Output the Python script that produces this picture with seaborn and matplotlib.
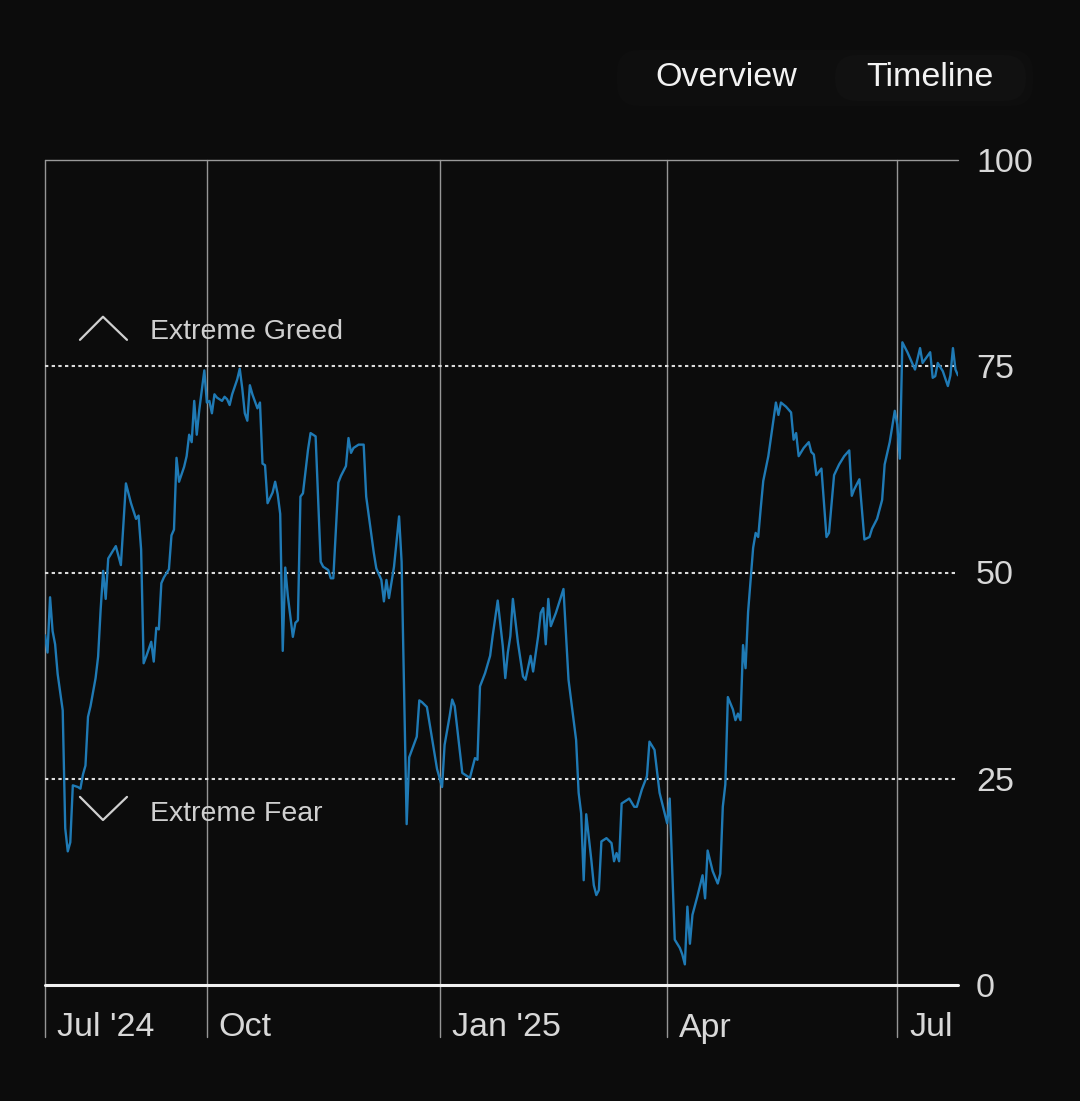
import pandas as pd
import matplotlib.pyplot as plt
import matplotlib.dates as mdates
from matplotlib.transforms import blended_transform_factory, ScaledTranslation
from matplotlib.patches import FancyBboxPatch
import seaborn as sns

# Fear & Greed index
dates = [
    "2024-07-29", "2024-07-30", "2024-07-31", "2024-08-01", "2024-08-02", "2024-08-03",
    "2024-08-05", "2024-08-06", "2024-08-07", "2024-08-08", "2024-08-09", "2024-08-11",
    "2024-08-12", "2024-08-13", "2024-08-14", "2024-08-15", "2024-08-16", "2024-08-18",
    "2024-08-19", "2024-08-20", "2024-08-21", "2024-08-22", "2024-08-23", "2024-08-24",
    "2024-08-26", "2024-08-28", "2024-08-30", "2024-09-01", "2024-09-03", "2024-09-04",
    "2024-09-05", "2024-09-06", "2024-09-07", "2024-09-09", "2024-09-10", "2024-09-11",
    "2024-09-12", "2024-09-13", "2024-09-14", "2024-09-16", "2024-09-17", "2024-09-18",
    "2024-09-19", "2024-09-20", "2024-09-22", "2024-09-23", "2024-09-24", "2024-09-25",
    "2024-09-26", "2024-09-27", "2024-09-28", "2024-09-30", "2024-10-01", "2024-10-02",
    "2024-10-03", "2024-10-04", "2024-10-05", "2024-10-07", "2024-10-08", "2024-10-09",
    "2024-10-10", "2024-10-11", "2024-10-13", "2024-10-14", "2024-10-15", "2024-10-16",
    "2024-10-17", "2024-10-18", "2024-10-19", "2024-10-21", "2024-10-22", "2024-10-23",
    "2024-10-24", "2024-10-25", "2024-10-27", "2024-10-28", "2024-10-29", "2024-10-30",
    "2024-10-31", "2024-11-01", "2024-11-02", "2024-11-04", "2024-11-05", "2024-11-06",
    "2024-11-07", "2024-11-08", "2024-11-10", "2024-11-11", "2024-11-13", "2024-11-15",
    "2024-11-16", "2024-11-18", "2024-11-19", "2024-11-20", "2024-11-22", "2024-11-23",
    "2024-11-25", "2024-11-26", "2024-11-27", "2024-11-28", "2024-11-30", "2024-12-02",
    "2024-12-03", "2024-12-06", "2024-12-07", "2024-12-09", "2024-12-10", "2024-12-11",
    "2024-12-12", "2024-12-14", "2024-12-16", "2024-12-17", "2024-12-19", "2024-12-20",
    "2024-12-23", "2024-12-24", "2024-12-25", "2024-12-27", "2024-12-31", "2025-01-02",
    "2025-01-03", "2025-01-05", "2025-01-06", "2025-01-07", "2025-01-10", "2025-01-11",
    "2025-01-13", "2025-01-15", "2025-01-16", "2025-01-17", "2025-01-19", "2025-01-21",
    "2025-01-22", "2025-01-24", "2025-01-26", "2025-01-27", "2025-01-28", "2025-01-29",
    "2025-01-30", "2025-02-01", "2025-02-03", "2025-02-04", "2025-02-06", "2025-02-07",
    "2025-02-09", "2025-02-10", "2025-02-11", "2025-02-12", "2025-02-13", "2025-02-14",
    "2025-02-16", "2025-02-19", "2025-02-21", "2025-02-24", "2025-02-25", "2025-02-26",
    "2025-02-27", "2025-02-28", "2025-03-02", "2025-03-03", "2025-03-04", "2025-03-05",
    "2025-03-06", "2025-03-08", "2025-03-10", "2025-03-11", "2025-03-12", "2025-03-13",
    "2025-03-14", "2025-03-17", "2025-03-19", "2025-03-20", "2025-03-22", "2025-03-24",
    "2025-03-25", "2025-03-27", "2025-03-29", "2025-04-01", "2025-04-02", "2025-04-04",
    "2025-04-06", "2025-04-07", "2025-04-08", "2025-04-09", "2025-04-10", "2025-04-11",
    "2025-04-13", "2025-04-15", "2025-04-16", "2025-04-17", "2025-04-19", "2025-04-21",
    "2025-04-22", "2025-04-23", "2025-04-24", "2025-04-25", "2025-04-27", "2025-04-28",
    "2025-04-29", "2025-04-30", "2025-05-01", "2025-05-02", "2025-05-03", "2025-05-05",
    "2025-05-06", "2025-05-07", "2025-05-08", "2025-05-09", "2025-05-11", "2025-05-13",
    "2025-05-14", "2025-05-15", "2025-05-16", "2025-05-18", "2025-05-20", "2025-05-21",
    "2025-05-22", "2025-05-23", "2025-05-25", "2025-05-27", "2025-05-28", "2025-05-29",
    "2025-05-30", "2025-06-01", "2025-06-03", "2025-06-04", "2025-06-06", "2025-06-08",
    "2025-06-10", "2025-06-12", "2025-06-13", "2025-06-14", "2025-06-16", "2025-06-18",
    "2025-06-20", "2025-06-21", "2025-06-23", "2025-06-25", "2025-06-26", "2025-06-28",
    "2025-06-30", "2025-07-01", "2025-07-02", "2025-07-03", "2025-07-05", "2025-07-08",
    "2025-07-10", "2025-07-11", "2025-07-14", "2025-07-15", "2025-07-16", "2025-07-17",
    "2025-07-19", "2025-07-21", "2025-07-22", "2025-07-23", "2025-07-24", "2025-07-25",
]
values = [
    42.4, 40.3, 47.0, 42.9, 41.3, 37.7,
    33.3, 19.0, 16.2, 17.3, 24.2, 24.0,
    23.8, 25.5, 26.6, 32.5, 33.8, 37.2,
    39.8, 45.5, 50.2, 46.8, 51.7, 52.2,
    53.2, 50.9, 60.8, 58.4, 56.5, 56.9,
    52.8, 39.0, 39.8, 41.6, 39.2, 43.3,
    43.1, 48.7, 49.4, 50.4, 54.5, 55.2,
    63.9, 61.0, 62.8, 64.1, 66.7, 65.8,
    70.8, 66.7, 69.7, 74.5, 70.6, 70.8,
    69.3, 71.6, 71.2, 70.8, 71.3, 71.0,
    70.3, 71.6, 73.4, 74.7, 72.3, 69.3,
    68.4, 72.7, 71.6, 69.9, 70.6, 63.2,
    63.0, 58.4, 59.7, 61.0, 59.5, 57.1,
    40.5, 50.6, 47.2, 42.2, 43.9, 44.2,
    59.2, 59.6, 64.9, 66.9, 66.5, 51.3,
    50.7, 50.3, 49.3, 49.3, 60.9, 61.7,
    62.9, 66.3, 64.5, 65.1, 65.5, 65.5,
    59.2, 52.4, 50.5, 49.1, 46.5, 49.1,
    46.9, 50.7, 56.8, 51.3, 19.5, 27.6,
    30.1, 34.5, 34.3, 33.7, 26.2, 24.0,
    29.1, 32.6, 34.6, 33.8, 25.7, 25.5,
    25.1, 27.5, 27.3, 36.2, 37.8, 39.9,
    42.3, 46.6, 41.1, 37.2, 40.3, 42.3,
    46.8, 41.5, 37.4, 37.0, 39.9, 38.0,
    42.3, 45.1, 45.7, 41.3, 46.8, 43.5,
    45.1, 48.0, 37.0, 29.7, 23.3, 20.8,
    12.7, 20.7, 15.2, 12.1, 10.9, 11.5,
    17.4, 17.8, 17.2, 15.0, 16.0, 15.0,
    22.0, 22.6, 21.6, 21.6, 23.7, 25.3,
    29.5, 28.5, 23.3, 19.6, 22.6, 5.5,
    4.5, 3.7, 2.5, 9.5, 5.0, 8.5,
    10.8, 13.3, 10.5, 16.3, 13.8, 12.3,
    13.5, 21.6, 24.3, 34.9, 33.4, 32.1,
    32.9, 32.1, 41.2, 38.4, 45.2, 53.0,
    54.8, 54.3, 57.8, 61.1, 64.1, 68.4,
    70.6, 69.1, 70.6, 70.1, 69.4, 66.1,
    66.9, 64.1, 65.1, 65.8, 64.6, 64.3,
    61.8, 62.6, 54.3, 54.8, 61.8, 63.1,
    64.1, 64.8, 59.3, 60.1, 61.3, 54.0,
    54.3, 55.3, 56.5, 58.8, 63.1, 65.8,
    69.6, 67.9, 63.8, 77.9, 76.7, 74.6,
    77.2, 75.4, 76.7, 73.6, 73.8, 75.4,
    74.4, 72.6, 73.9, 77.2, 74.6, 73.9,
]

month_ticks = ["2024-07-29", "2024-10-01", "2025-01-01", "2025-04-01", "2025-07-01"]
month_labels = ["Jul '24", "Oct", "Jan '25", "Apr", "Jul"]
level_ticks = [0, 25, 50, 75, 100]
zone_lines = [25, 50, 75]

df = pd.DataFrame({"date": pd.to_datetime(dates), "score": values})

bg = "#0c0c0c"
txt = "#d8d8d8"
sns.set_theme(style="dark")
plt.rcParams["font.family"] = ["Liberation Sans", "DejaVu Sans"]

fig = plt.figure(figsize=(10.8, 11.01), dpi=100, facecolor=bg)
ax = fig.add_axes([45 / 1080, 1 - 985 / 1101, 913 / 1080, 825 / 1101])
ax.set_facecolor(bg)

sns.lineplot(data=df, x="date", y="score", color="#1f7ab5", linewidth=1.7, ax=ax, zorder=4)

ax.set_xlim(pd.Timestamp("2024-07-29"), pd.Timestamp("2025-07-25"))
ax.set_ylim(0, 100)
for s in ax.spines.values():
    s.set_visible(False)
ax.grid(False)
ax.set_xlabel("")
ax.set_ylabel("")
ax.set_xticks([])

# horizontal guides
ax.axhline(100, color="#9a9a9a", lw=1, zorder=2, clip_on=False)
for y in zone_lines:
    ax.axhline(y, color="#dcdcdc", lw=1.5, linestyle=(0, (1.6, 1.6)), zorder=2)
ax.axhline(0, color="#f2f2f2", lw=2.2, zorder=3, clip_on=False)

# month lines and labels
lab_trans = blended_transform_factory(ax.transData, ax.transAxes) + \
    ScaledTranslation(12 / 100, 0, fig.dpi_scale_trans)
for t, lab in zip(month_ticks, month_labels):
    xv = mdates.date2num(pd.Timestamp(t))
    ax.axvline(xv, ymin=-52 / 825, ymax=1, color="#969696", lw=1, clip_on=False, zorder=1)
    ax.text(xv, -43 / 825, lab, transform=lab_trans, ha="left", va="center",
            fontsize=24.5, color=txt)

# right side value labels
ax.yaxis.tick_right()
ax.set_yticks(level_ticks)
ax.tick_params(axis="y", length=0, pad=13, labelsize=24.5, labelcolor=txt)

# zone annotations
zt = blended_transform_factory(ax.transAxes, ax.transData)
ax.plot([0.0383, 0.0635, 0.0898], [78.2, 81.0, 78.2], transform=zt, color="#d0d0d0", lw=1.6)
ax.plot([0.0383, 0.0635, 0.0898], [22.8, 20.0, 22.8], transform=zt, color="#d0d0d0", lw=1.6)
ax.text(0.115, 79.2, "Extreme Greed", transform=zt, fontsize=20.5, color="#d0d0d0", va="center")
ax.text(0.115, 20.7, "Extreme Fear", transform=zt, fontsize=20.5, color="#d0d0d0", va="center")

# top toggle buttons (very faint pills)
for (x0, x1, y0, y1, col) in [(617, 1033, 50, 106, "#0e0e0e"), (835, 1026, 55, 101, "#111111")]:
    fig.patches.append(FancyBboxPatch((x0 / 1080, 1 - y1 / 1101), (x1 - x0) / 1080, (y1 - y0) / 1101,
                                      boxstyle="round,pad=0,rounding_size=0.02",
                                      transform=fig.transFigure, facecolor=col,
                                      edgecolor="none", zorder=0))
fig.text(726 / 1080, 1 - 78 / 1101, "Overview", ha="center", va="center", fontsize=24.5, color="#f2f2f2")
fig.text(930 / 1080, 1 - 78 / 1101, "Timeline", ha="center", va="center", fontsize=24.5, color="#f2f2f2")

fig.savefig("out.png", dpi=100, facecolor=bg)
